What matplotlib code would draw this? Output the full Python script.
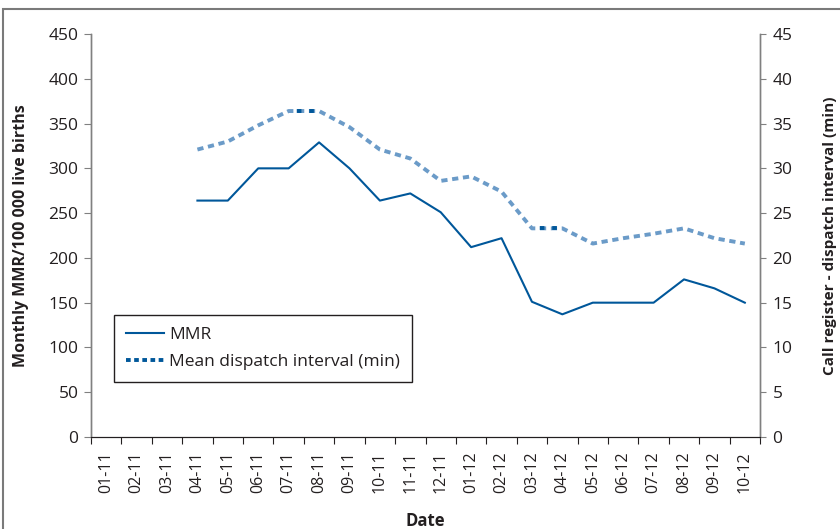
import numpy as np
import matplotlib
matplotlib.use("Agg")
import matplotlib.pyplot as plt
from matplotlib.lines import Line2D
from matplotlib.patches import Rectangle

plt.rcParams['font.family'] = ['Open Sans', 'DejaVu Sans']

# data
months = ["01-11", "02-11", "03-11", "04-11", "05-11", "06-11", "07-11", "08-11",
          "09-11", "10-11", "11-11", "12-11", "01-12", "02-12", "03-12", "04-12",
          "05-12", "06-12", "07-12", "08-12", "09-12", "10-12"]
mmr = [np.nan, np.nan, np.nan, 264, 264, 300, 300, 329, 300, 264, 272, 251,
       212, 222, 151, 137, 150, 150, 150, 176, 166, 150]
dispatch = [np.nan, np.nan, np.nan, 32.1, 33.0, 34.8, 36.4, 36.4, 34.6, 32.1, 31.1,
            28.6, 29.1, 27.4, 23.3, 23.3, 21.6, 22.2, 22.7, 23.3, 22.2, 21.6]

dark = "#00579a"
light = "#6b9bc8"
text_col = "#231f20"

x = np.arange(len(months))

fig = plt.figure(figsize=(8.4, 5.29), dpi=100)
ax = fig.add_axes([0.1083, 0.1739, 0.7965, 0.7618])
ax2 = ax.twinx()

ax.plot(x, mmr, color=dark, lw=1.5, zorder=3)
ax2.plot(x, dispatch, color=light, lw=2.8, linestyle=(0, (1.6, 1.2)), zorder=3)

# flat stretches come out in the darker blue in the original
d = np.array(dispatch)
for i in range(len(d) - 1):
    if d[i] == d[i + 1]:
        ax2.plot(x[i:i + 2], d[i:i + 2], color=dark, lw=2.8,
                 linestyle=(1.2, (1.2, 2.0)), zorder=4)

ax.set_xlim(-0.5, len(months) - 0.5)
ax.set_ylim(0, 450)
ax2.set_ylim(0, 45)
ax.set_yticks(np.arange(0, 451, 50))
ax2.set_yticks(np.arange(0, 46, 5))

ax.set_xticks(np.arange(-0.5, len(months), 1))
ax.set_xticklabels([])
ax.set_xticks(x, minor=True)
ax.set_xticklabels(months, minor=True, rotation=90)
ax.tick_params(axis='x', which='major', length=5, color=text_col)
ax.tick_params(axis='x', which='minor', length=0, pad=10, labelsize=11.5,
               labelcolor=text_col)
ax.tick_params(axis='y', length=5, color='#808080', labelsize=12.5,
               labelcolor=text_col, pad=4)
ax2.tick_params(axis='y', length=4, color='#808080', labelsize=12.5,
                labelcolor=text_col, pad=5)

for a in (ax, ax2):
    a.spines['top'].set_visible(False)
    a.spines['left'].set_color('#808080')
    a.spines['right'].set_color('#808080')
    a.spines['bottom'].set_color(text_col)
    a.spines['left'].set_linewidth(1.0)
    a.spines['right'].set_linewidth(1.0)

ax.set_ylabel("Monthly MMR/100 000 live births", fontsize=11.5, fontweight='bold',
              color=text_col, labelpad=14)
ax2.set_ylabel("Call register - dispatch interval (min)", fontsize=11,
               fontweight='bold', color=text_col, labelpad=22)
ax.set_xlabel("Date", fontsize=12, fontweight='bold', color=text_col, labelpad=14)

handles = [Line2D([], [], color=dark, lw=1.5),
           Line2D([], [], color=dark, lw=2.8, linestyle=(0, (1.2, 0.9)))]
leg = ax.legend(handles, ["MMR", "Mean dispatch interval (min)"],
                loc='lower left', bbox_to_anchor=(0.034, 0.136),
                fancybox=False, framealpha=1, edgecolor=text_col,
                fontsize=12.5, handlelength=2.2, handletextpad=0.3,
                borderpad=0.7, labelspacing=0.6, borderaxespad=0)
leg.get_frame().set_linewidth(1.0)
for t in leg.get_texts():
    t.set_color(text_col)

# grey frame round the figure, open at the bottom and right
fig.patches.append(Rectangle((3 / 840, -0.05), 1.1, 1.05 - 9 / 529,
                             transform=fig.transFigure, fill=False,
                             edgecolor='#7a7a7a', lw=1.5))

fig.savefig("out.png", dpi=100)
